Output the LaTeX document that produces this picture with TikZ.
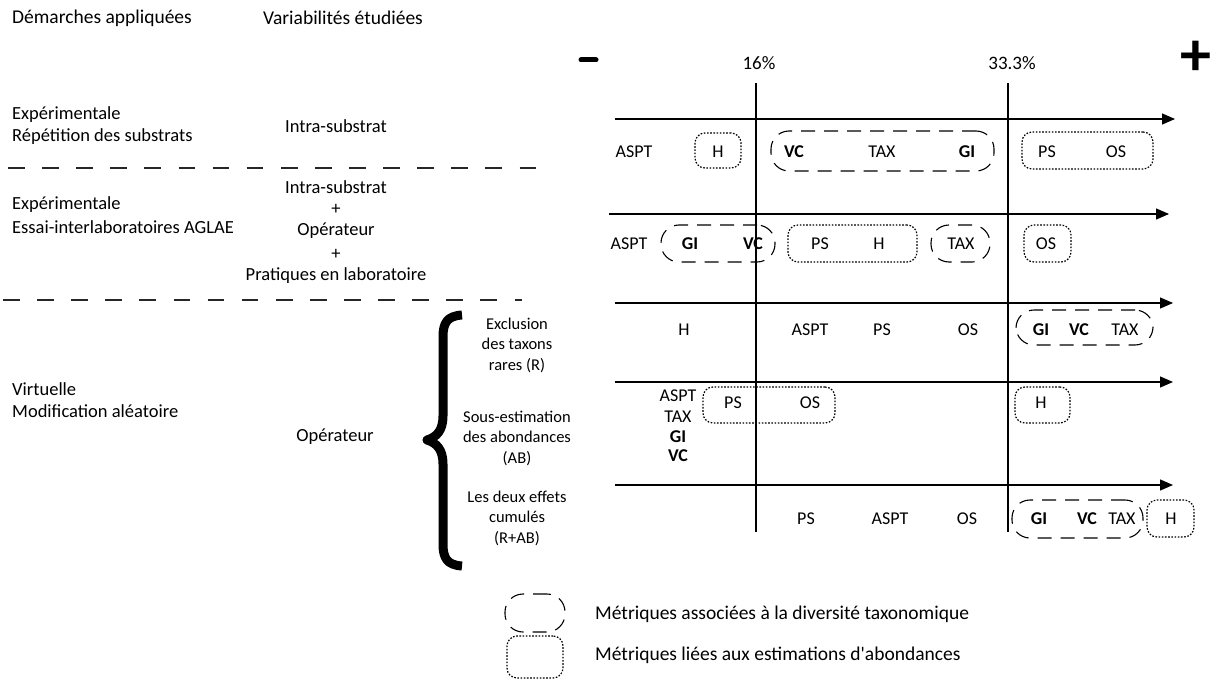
\documentclass[tikz,border=0pt]{standalone}
\usepackage{fontspec}
\setmainfont{Carlito}[Ligatures=TeXOff]
\usetikzlibrary{arrows.meta}
\tikzset{
  txt/.style={inner sep=0pt, font=\fontsize{18.5}{22}\selectfont},
  hdr/.style={inner sep=0pt, font=\fontsize{19.5}{22}\selectfont},
  lgd/.style={inner sep=0pt, font=\fontsize{19.5}{22}\selectfont},
  lbl/.style={inner sep=0pt, font=\fontsize{18}{20}\selectfont},
  blbl/.style={inner sep=0pt, font=\fontsize{18}{20}\selectfont\bfseries},
  brtxt/.style={inner sep=0pt, align=center, font=\fontsize{16.5}{20.5}\selectfont},
  pct/.style={inner sep=0pt, font=\fontsize{19}{22}\selectfont},
  dashbox/.style={draw, line width=1.1pt, dash pattern=on 14pt off 9pt, rounded corners=18pt, inner sep=0pt},
  dotbox/.style={draw, line width=1.2pt, dash pattern=on 1.6pt off 1.6pt, rounded corners=10pt, inner sep=0pt},
  axisline/.style={line width=1.3pt, -{Triangle[length=13pt,width=11pt]}},
  vline/.style={line width=1.3pt},
  sep/.style={line width=1.1pt, dash pattern=on 16.7pt off 17.4pt, black!85},
}
\begin{document}
\begin{tikzpicture}[x=1pt,y=-1pt]
\useasboundingbox (0,0) rectangle (1215,682);

% headers
\node[hdr, anchor=west] (hd1) at (12,18) {Démarches appliquées};
\node[hdr] (hd2) at (343,18) {Variabilités étudiées};

% minus / plus
\coordinate (m1) at (581,60); \coordinate (m2) at (596,60);
\draw[line width=5pt, line cap=round] (m1) -- (m2);
\node[inner sep=0pt, font=\fontsize{62}{62}\selectfont\bfseries] (plus) at (1196,58) {+};
\node[pct] (p16) at (759,63) {16\%};
\node[pct] (p33) at (1012,63) {33.3\%};

% vertical lines
\coordinate (v1t) at (756,83); \coordinate (v1b) at (756,532);
\coordinate (v2t) at (1008,83); \coordinate (v2b) at (1008,532);
\draw[vline] (v1t) -- (v1b);
\draw[vline] (v2t) -- (v2b);

% axes
\coordinate (a1s) at (615,119); \coordinate (a1e) at (1175,119);
\coordinate (a2s) at (609,214); \coordinate (a2e) at (1169,214);
\coordinate (a3s) at (615,303); \coordinate (a3e) at (1173,303);
\coordinate (a4s) at (615,382); \coordinate (a4e) at (1173,382);
\coordinate (a5s) at (615,485); \coordinate (a5e) at (1173,485);
\draw[axisline] (a1s) -- (a1e);
\draw[axisline] (a2s) -- (a2e);
\draw[axisline] (a3s) -- (a3e);
\draw[axisline] (a4s) -- (a4e);
\draw[axisline] (a5s) -- (a5e);

% left column texts
\node[txt, anchor=west] (e1a) at (12,115) {Expérimentale};
\node[txt, anchor=west] (e1b) at (12,137) {Répétition des substrats};
\node[txt] (v1) at (336,126) {Intra-substrat};
\coordinate (s1a) at (8,168); \coordinate (s1b) at (537,168);
\draw[sep] (s1a) -- (s1b);

\node[txt, anchor=west] (e2a) at (12,205) {Expérimentale};
\node[txt, anchor=west] (e2b) at (12,227) {Essai-interlaboratoires AGLAE};
\node[txt] (v2a) at (336,187) {Intra-substrat};
\node[txt] (v2b) at (336,209) {+};
\node[txt] (v2c) at (336,231) {Opérateur};
\node[txt] (v2d) at (336,254) {+};
\node[txt] (v2e) at (336,276) {Pratiques en laboratoire};
\coordinate (s2a) at (3,300); \coordinate (s2b) at (522,300);
\draw[sep] (s2a) -- (s2b);

\node[txt, anchor=west] (e3a) at (12,389) {Virtuelle};
\node[txt, anchor=west] (e3b) at (12,411) {Modification aléatoire};
\node[txt] (v3) at (335,437) {Opérateur};

% brace
\draw[line width=9pt, line join=round] (462,315) .. controls (447,316) and (443,323) .. (443,337) -- (443,416) .. controls (443,430) and (437,437) .. (427,440) .. controls (437,443) and (443,450) .. (443,464) -- (443,544) .. controls (443,558) and (447,565) .. (462,566);

\node[brtxt] (r1) at (517,345) {Exclusion\\des taxons\\rares (R)};
\node[brtxt] (r2) at (517,438) {Sous-estimation\\des abondances\\(AB)};
\node[brtxt] (r3) at (517,518) {Les deux effets\\cumulés\\(R+AB)};

% row 1
\node[lbl] (r1aspt) at (634,152) {ASPT};
\node[dotbox, minimum width=46, minimum height=35] (r1hb) at (718,150.5) {};
\node[lbl] (r1h) at (718,152) {H};
\node[dashbox, minimum width=223, minimum height=40] (r1db) at (882.5,151) {};
\node[blbl] (r1vc) at (794,152) {VC};
\node[lbl] (r1tax) at (882,152) {TAX};
\node[blbl] (r1gi) at (967,152) {GI};
\node[dotbox, minimum width=131, minimum height=37] (r1pb) at (1087.5,150.5) {};
\node[lbl] (r1ps) at (1047,152) {PS};
\node[lbl] (r1os) at (1116,152) {OS};

% row 2
\node[lbl] (r2aspt) at (629,244) {ASPT};
\node[dashbox, minimum width=114, minimum height=37] (r2db) at (718,243.5) {};
\node[blbl] (r2gi) at (690,244) {GI};
\node[blbl] (r2vc) at (753,244) {VC};
\node[dotbox, minimum width=129, minimum height=37] (r2pb) at (852.5,243.5) {};
\node[lbl] (r2ps) at (820,244) {PS};
\node[lbl] (r2h) at (879,244) {H};
\node[dashbox, minimum width=59, minimum height=37] (r2tb) at (960.5,243.5) {};
\node[lbl] (r2tax) at (961,244) {TAX};
\node[dotbox, minimum width=47, minimum height=37] (r2ob) at (1047.5,243.5) {};
\node[lbl] (r2os) at (1046,244) {OS};

% row 3
\node[lbl] (r3h) at (684,330) {H};
\node[lbl] (r3aspt) at (810,330) {ASPT};
\node[lbl] (r3ps) at (882,330) {PS};
\node[lbl] (r3os) at (968,330) {OS};
\node[dashbox, minimum width=137, minimum height=35] (r3db) at (1084.5,327.5) {};
\node[blbl] (r3gi) at (1041,330) {GI};
\node[blbl] (r3vc) at (1079,330) {VC};
\node[lbl] (r3tax) at (1125,330) {TAX};

% row 4
\node[lbl] (r4aspt) at (678,396) {ASPT};
\node[lbl] (r4tax) at (678,417) {TAX};
\node[blbl] (r4gi) at (678,437) {GI};
\node[blbl] (r4vc) at (678,456) {VC};
\node[dotbox, minimum width=132, minimum height=36] (r4pb) at (769,405) {};
\node[lbl] (r4ps) at (733,403) {PS};
\node[lbl] (r4os) at (810,403) {OS};
\node[dotbox, minimum width=55, minimum height=36] (r4hb) at (1042.5,405) {};
\node[lbl] (r4h) at (1041,403) {H};

% row 5
\node[lbl] (r5ps) at (806,519) {PS};
\node[lbl] (r5aspt) at (890,519) {ASPT};
\node[lbl] (r5os) at (967,519) {OS};
\node[dashbox, minimum width=131, minimum height=38] (r5db) at (1077.5,519) {};
\node[blbl] (r5gi) at (1039,519) {GI};
\node[blbl] (r5vc) at (1087,519) {VC};
\node[lbl] (r5tax) at (1122,519) {TAX};
\node[dotbox, minimum width=47, minimum height=37] (r5hb) at (1170.5,518.5) {};
\node[lbl] (r5h) at (1171,519) {H};

% legend
\node[dashbox, minimum width=60, minimum height=38] (lg1) at (535,613) {};
\node[dotbox, minimum width=56, minimum height=42] (lg2) at (535,657) {};
\node[lgd, anchor=west] (lt1) at (595,614) {Métriques associées à la diversité taxonomique};
\node[lgd, anchor=west] (lt2) at (595,655) {Métriques liées aux estimations d'abondances};
\end{tikzpicture}
\end{document}
